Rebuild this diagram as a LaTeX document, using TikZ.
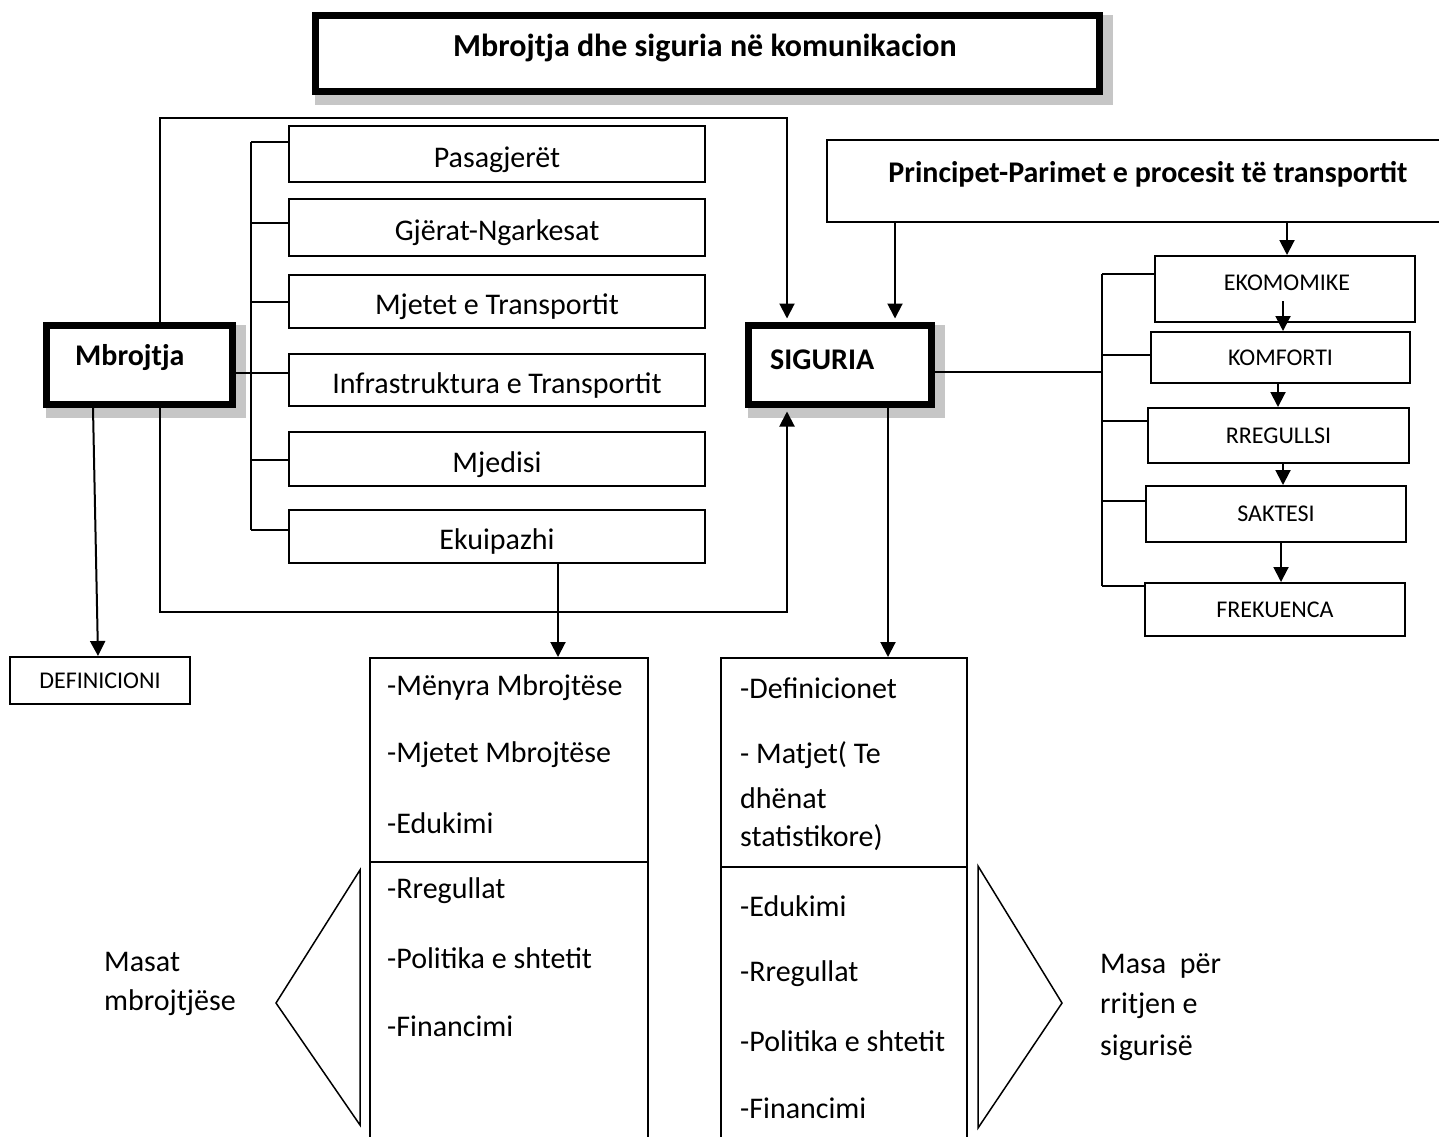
\documentclass[tikz,border=0pt]{standalone}
\usepackage{fontspec}
\setmainfont{Carlito}
\usetikzlibrary{arrows.meta,calc}
\pgfdeclarelayer{bg}
\pgfsetlayers{bg,main}
\begin{document}
\begin{tikzpicture}[x=1pt,y=-1pt,
  line/.style={line width=2pt},
  arr/.style={line width=2pt,-{Triangle[length=15pt,width=15pt]}},
  box/.style={draw,line width=2pt,inner sep=0pt,text height=32pt,text depth=6pt,font=\fontsize{30}{36}\selectfont},
  sbox/.style={draw,line width=2pt,inner sep=0pt,font=\fontsize{24}{29}\selectfont},
  heavybox/.style={draw,fill=white,line width=7pt,inner sep=0pt},
  txt/.style={font=\fontsize{30}{36}\selectfont,anchor=west,inner sep=0pt},
  btxt/.style={font=\bfseries\fontsize{30}{36}\selectfont,inner sep=0pt},
  stxt/.style={font=\fontsize{24}{29}\selectfont,inner sep=0pt},
  shade/.style={fill=gray!45}
]
\useasboundingbox (0,0) rectangle (1439,1136);
\clip (0,0) rectangle (1439,1136);
\begin{pgfonlayer}{bg}
\fill[white] (0,0) rectangle (1439,1136);
\end{pgfonlayer}

% title
\node[heavybox,minimum width=784,minimum height=76] (t) at (707.5,53.5) {};
\node[btxt,font=\bfseries\fontsize{32}{38}\selectfont] (tt) at (705,48) {Mbrojtja dhe siguria në komunikacion};

% Mbrojtja and SIGURIA
\node[heavybox,minimum width=186,minimum height=79] (mb) at (139.5,365) {};
\node[btxt,anchor=west] (mbt) at (75,357) {Mbrojtja};
\node[heavybox,minimum width=183,minimum height=79] (sig) at (840,365) {};
\node[btxt,anchor=west] (sigt) at (770,360) {SIGURIA};

\begin{pgfonlayer}{bg}
\foreach \n in {t,mb,sig}{
  \fill[shade] ($(\n.north west)+(2.5,2.5)$) rectangle ($(\n.south east)+(9.5,9.5)$);
}
\end{pgfonlayer}

% middle boxes
\node[box,minimum width=416,minimum height=56] (p1) at (497,154) {Pasagjerët};
\node[box,minimum width=416,minimum height=57] (p2) at (497,227.5) {Gjërat-Ngarkesat};
\node[box,minimum width=416,minimum height=53] (p3) at (497,301.5) {Mjetet e Transportit};
\node[box,minimum width=416,minimum height=52] (p4) at (497,380) {Infrastruktura e Transportit};
\node[box,minimum width=416,minimum height=54] (p5) at (497,459) {Mjedisi};
\node[box,minimum width=416,minimum height=53] (p6) at (497,536.5) {Ekuipazhi};

% left bus
\coordinate (k1) at (251,142);
\coordinate (k2) at (251,223);
\coordinate (k3) at (251,302);
\coordinate (k4) at (251,373);
\coordinate (k5) at (251,460);
\coordinate (k6) at (251,530);
\draw[line] (k1) -- (k6);
\foreach \i in {1,2,3,5,6}{ \draw[line] (k\i) -- (p\i.west |- k\i); }
\draw[line] (mb.east |- k4) -- (p4.west |- k4);

% loops
\coordinate (lt) at (160,118);
\coordinate (rt) at (787,118);
\coordinate (lb) at (160,612);
\coordinate (rb) at (787,612);
\draw[arr,shorten >=3.5pt] (mb.north -| lt) |- (rt) -- (sig.north -| rt);
\draw[arr,shorten >=3.5pt] (mb.south -| lb) |- (rb) -- (sig.south -| rb);

% DEFINICIONI
\node[sbox,minimum width=180,minimum height=47] (def) at (100,680.5) {DEFINICIONI};
\coordinate (d1) at (93,0);
\coordinate (d2) at (98,0);
\draw[arr] (mb.south -| d1) -- (def.north -| d2);

% bottom boxes
\node[draw,line width=2pt,inner sep=0pt,minimum width=278,minimum height=520,anchor=north] (lbox) at (509,657) {};
\node[draw,line width=2pt,inner sep=0pt,minimum width=246,minimum height=520,anchor=north] (rbox) at (844,657) {};
\coordinate (dl) at (0,862);
\coordinate (dr) at (0,867);
\draw[line] (lbox.west |- dl) -- (lbox.east |- dl);
\draw[line] (rbox.west |- dr) -- (rbox.east |- dr);
\coordinate (ek) at (558,0);
\draw[arr] (p6.south -| ek) -- (lbox.north -| ek);
\coordinate (sg) at (888,0);
\draw[arr] (sig.south -| sg) -- (rbox.north -| sg);

\node[txt] (l1) at (387,688) {-Mënyra Mbrojtëse};
\node[txt] (l2) at (387,755) {-Mjetet Mbrojtëse};
\node[txt] (l3) at (387,823) {-Edukimi};
\node[txt] (l4) at (387,891) {-Rregullat};
\node[txt] (l5) at (387,958) {-Politika e shtetit};
\node[txt] (l6) at (387,1026) {-Financimi};

\node[txt] (r1t) at (740,688) {-Definicionet};
\node[txt] (r2t) at (740,755) {- Matjet( Te};
\node[txt] (r3t) at (740,798) {dhënat};
\node[txt] (r4t) at (740,838) {statistikore)};
\node[txt] (r5t) at (740,906) {-Edukimi};
\node[txt] (r6t) at (740,974) {-Rregullat};
\node[txt] (r7t) at (740,1041) {-Politika e shtetit};
\node[txt] (r8t) at (740,1108) {-Financimi};

% triangles
\draw[line width=1.5pt,line join=miter] (360,870) -- (276,1003) -- (360,1125) -- cycle;
\draw[line width=1.5pt,line join=miter] (978,866) -- (1062,1003) -- (978,1128) -- cycle;
\node[txt] (m1) at (104,962) {Masat};
\node[txt] (m2) at (104,1003) {mbrojtjëse};
\node[txt] (m3) at (1100,966) {Masa\ \ për};
\node[txt] (m4) at (1100,1006) {rritjen e};
\node[txt] (m5) at (1100,1048) {sigurisë};

% Principet
\node[draw,line width=2pt,inner sep=0pt,minimum width=640,minimum height=82] (pr) at (1147,181) {};
\node[btxt] (prt) at (1148,174) {Principet-Parimet e procesit të transportit};

% right boxes
\node[sbox,minimum width=260,minimum height=66] (e1) at (1285,289) {};
\node[stxt] (e1t) at (1287,283) {EKOMOMIKE};
\node[sbox,minimum width=259,minimum height=51] (e2) at (1280.5,357.5) {KOMFORTI};
\node[sbox,minimum width=261,minimum height=55] (e3) at (1278.5,435.5) {RREGULLSI};
\node[sbox,minimum width=260,minimum height=56] (e4) at (1276,514) {SAKTESI};
\node[sbox,minimum width=260,minimum height=53] (e5) at (1275,609.5) {FREKUENCA};

\coordinate (pa) at (895,0);
\draw[arr,shorten >=3.5pt] (pr.south -| pa) -- (sig.north -| pa);
\coordinate (pb) at (1287,0);
\draw[arr] (pr.south -| pb) -- (e1.north -| pb);
\coordinate (ea) at (1283,301);
\draw[arr] (ea) -- (e2.north -| ea);
\coordinate (eb) at (1278,0);
\draw[arr] (e2.south -| eb) -- (e3.north -| eb);
\coordinate (ec) at (1283,0);
\draw[arr] (e3.south -| ec) -- (e4.north -| ec);
\coordinate (ed) at (1281,0);
\draw[arr] (e4.south -| ed) -- (e5.north -| ed);

% right bus
\coordinate (q1) at (1102,274);
\coordinate (q2) at (1102,355);
\coordinate (q3) at (1102,421);
\coordinate (q4) at (1102,501);
\coordinate (q5) at (1102,586);
\coordinate (qs) at (1102,372);
\draw[line] (q1) -- (q5);
\foreach \i in {1,...,5}{ \draw[line] (q\i) -- (e\i.west |- q\i); }
\draw[line] (sig.east |- qs) -- (qs);
\end{tikzpicture}
\end{document}
